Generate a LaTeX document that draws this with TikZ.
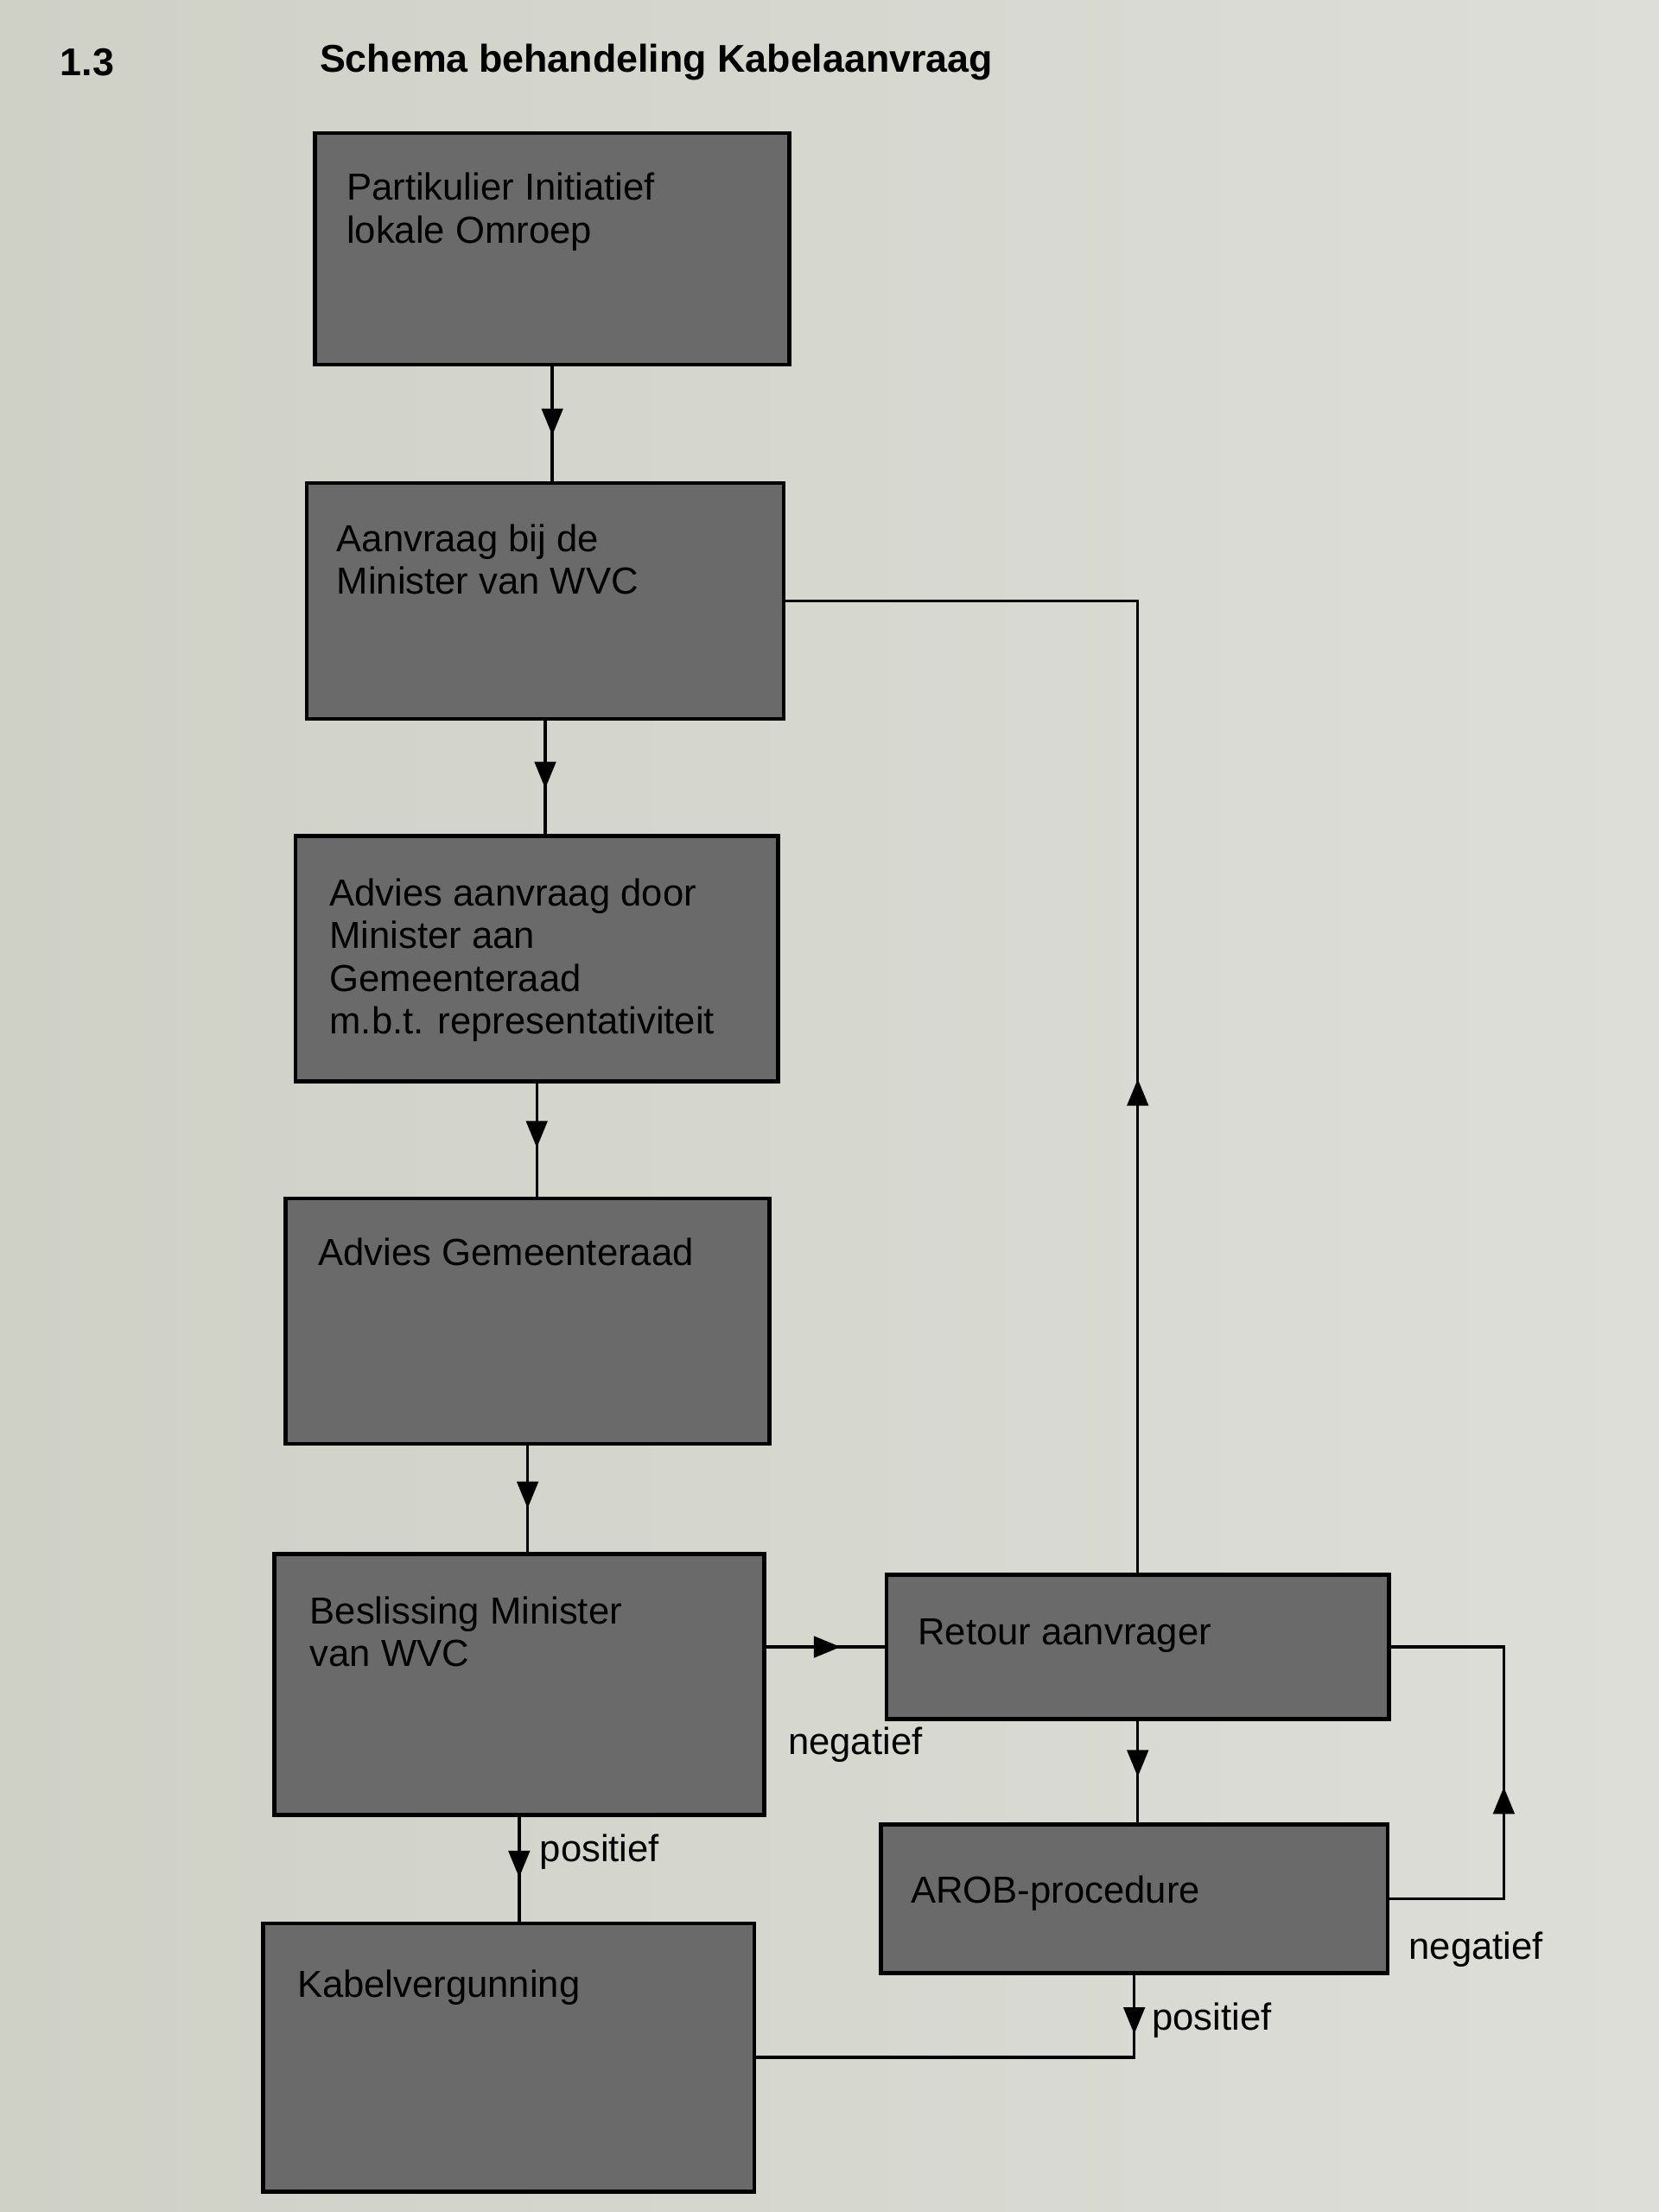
\documentclass[tikz,border=0pt]{standalone}
\usepackage{fontspec}
\setmainfont{Liberation Sans}
\usetikzlibrary{arrows.meta,decorations.markings}

\definecolor{papier}{HTML}{CFD1C7}
\definecolor{papierlicht}{HTML}{DDDED8}
\definecolor{blokgrijs}{HTML}{6A6A6A}

\tikzset{
  blok/.style={draw=black, line width=0.8pt, fill=blokgrijs, anchor=north west, inner sep=0pt},
  tekst/.style={anchor=north west, inner sep=0pt, align=left, font=\fontsize{7.6}{8.6}\selectfont},
  label tekst/.style={anchor=west, inner sep=0pt, font=\fontsize{7.6}{8.6}\selectfont},
  pijl/.style={line width=0.6pt, postaction={decorate},
    decoration={markings, mark=at position #1 with {\arrow{Triangle[width=0.15cm,length=0.19cm]}}}},
}

\begin{document}
\begin{tikzpicture}[x=0.01cm,y=-0.01cm]
	\useasboundingbox (0,0) rectangle (1176,1568);
	\shade[left color=papier, right color=papierlicht] (0,0) rectangle (1176,1568);

	% Titel
	\node[label tekst, font=\fontsize{7.8}{9}\selectfont\bfseries] (nr) at (42,44) {1.3};
	\node[label tekst, font=\fontsize{7.8}{9}\selectfont\bfseries] (titel) at (226,44) {Schema behandeling Kabelaanvraag};

	% Blokken linker kolom
	\node[blok, minimum width=3.36cm, minimum height=1.64cm] (b1) at (222,93) {};
	\node[tekst] (t1) at (245,122) {Partikulier Initiatief\\lokale Omroep};
	\node[blok, minimum width=3.38cm, minimum height=1.67cm] (b2) at (216,341) {};
	\node[tekst] (t2) at (238,371) {Aanvraag bij de\\Minister van WVC};
	\node[blok, minimum width=3.42cm, minimum height=1.74cm] (b3) at (208,591) {};
	\node[tekst] (t3) at (233,622) {Advies aanvraag door\\Minister aan\\Gemeenteraad\\m.b.t. representativiteit};
	\node[blok, minimum width=3.43cm, minimum height=1.74cm] (b4) at (201,848) {};
	\node[tekst] (t4) at (225,877) {Advies Gemeenteraad};
	\node[blok, minimum width=3.47cm, minimum height=1.85cm] (b5) at (193,1100) {};
	\node[tekst] (t5) at (219,1131) {Beslissing Minister\\van WVC};
	\node[blok, minimum width=3.48cm, minimum height=1.90cm] (b6) at (185,1362) {};
	\node[tekst] (t6) at (210,1396) {Kabelvergunning};

	% Blokken rechter kolom
	\node[blok, minimum width=3.56cm, minimum height=1.02cm] (r) at (627,1115) {};
	\node[tekst] (tr) at (650,1147) {Retour aanvrager};
	\node[blok, minimum width=3.59cm, minimum height=1.05cm] (p) at (623,1292) {};
	\node[tekst] (tp) at (645,1329) {AROB-procedure};
	\coordinate (lus) at (1066,1200);

	% Verbindingen
	\draw[pijl=0.6] (b1.south) -- (b1.south |- b2.north);
	\draw[pijl=0.6] (b2.south) -- (b2.south |- b3.north);
	\draw[pijl=0.57] (b3.south) -- (b3.south |- b4.north);
	\draw[pijl=0.59] (b4.south) -- (b4.south |- b5.north);
	\draw[pijl=0.58] (b5.south) -- (b5.south |- b6.north);
	\draw[pijl=0.63] (r.west -| b5.east) -- (r.west);
	\draw[pijl=3.5cm] (r.north) |- (b2.east);
	\draw[pijl=0.55] (r.south) -- (r.south |- p.north);
	\draw[pijl=1.6cm] (p.east) -| (lus) |- (r.east);
	\draw[pijl=0.42cm] (p.south) |- (b6.east);

	% Labels
	\node[label tekst] (pos1) at (382,1313) {positief};
	\node[label tekst] (neg1) at (558,1237) {negatief};
	\node[label tekst] (neg2) at (998,1382) {negatief};
	\node[label tekst] (pos2) at (816,1432) {positief};
\end{tikzpicture}
\end{document}
